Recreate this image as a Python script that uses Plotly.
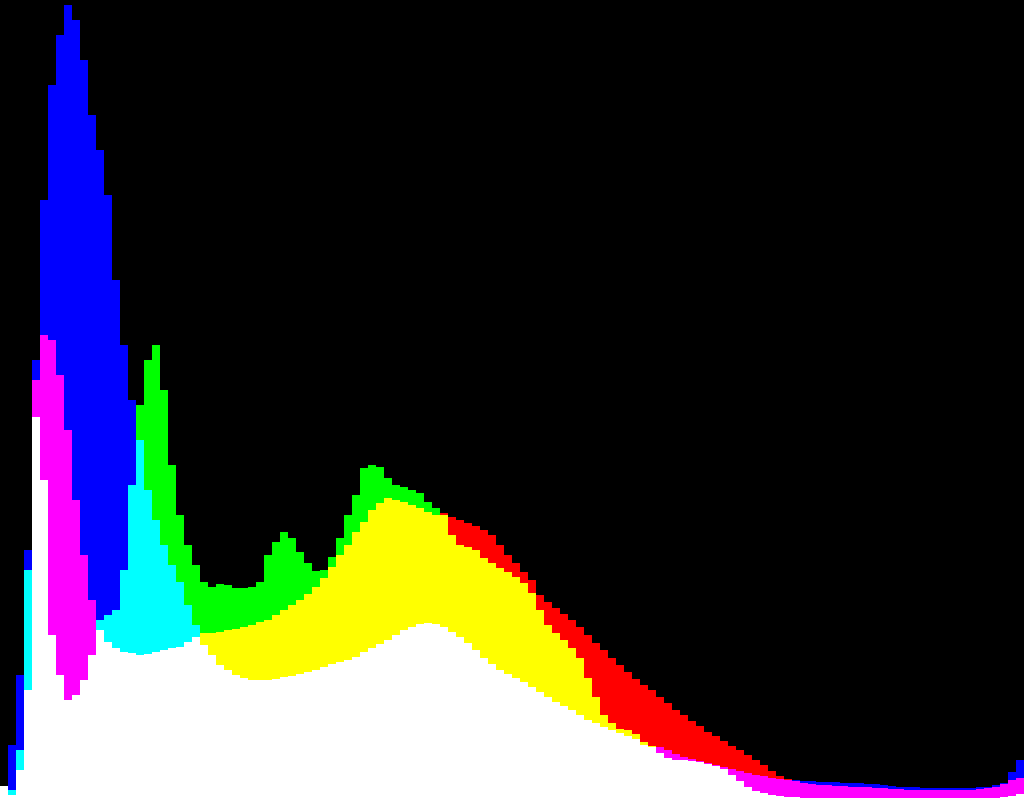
import plotly.graph_objects as go

# Histogram counts per channel (height in plot units, 128 bins of 8 px)
R = [14, 5, 30, 110, 420, 465, 460, 425, 370, 300,
     245, 200, 170, 158, 152, 148, 147, 145, 146, 148,
     150, 152, 153, 158, 163, 167, 167, 168, 170, 171,
     173, 175, 178, 180, 185, 190, 195, 200, 206, 213,
     222, 233, 245, 255, 268, 278, 290, 297, 302, 300,
     298, 295, 292, 288, 285, 287, 283, 280, 277, 274,
     270, 265, 255, 245, 237, 228, 220, 205, 198, 192,
     186, 180, 173, 165, 157, 150, 142, 135, 128, 121,
     115, 110, 103, 97, 90, 85, 79, 74, 68, 64,
     59, 54, 50, 45, 40, 35, 29, 24, 21, 19,
     17, 16, 15, 15, 14, 14, 13, 13, 13, 12,
     12, 11, 11, 10, 10, 10, 10, 10, 10, 10,
     10, 10, 11, 12, 13, 16, 20, 22]

G = [14, 10, 50, 230, 383, 320, 165, 125, 100, 105,
     120, 145, 180, 185, 190, 230, 315, 395, 440, 455,
     410, 335, 285, 255, 235, 218, 213, 216, 215, 212,
     212, 213, 218, 245, 258, 268, 262, 248, 237, 229,
     230, 243, 262, 285, 305, 332, 335, 333, 322, 315,
     313, 310, 307, 298, 292, 285, 265, 255, 253, 250,
     242, 237, 232, 228, 223, 217, 207, 190, 175, 167,
     160, 152, 142, 122, 103, 85, 77, 71, 70, 66,
     58, 54, 47, 42, 40, 40, 39, 38, 36, 34,
     31, 25, 19, 13, 9, 7, 5, 4, 3, 3,
     2, 2, 2, 2, 2, 2, 2, 2, 2, 2,
     2, 2, 2, 2, 2, 2, 2, 2, 2, 2,
     2, 2, 2, 2, 2, 3, 4, 6]

B = [14, 55, 125, 250, 440, 600, 715, 765, 795, 780,
     740, 685, 650, 605, 520, 455, 400, 360, 310, 280,
     255, 235, 218, 195, 175, 155, 145, 135, 130, 125,
     122, 120, 120, 120, 121, 123, 124, 126, 128, 130,
     133, 136, 138, 140, 143, 148, 152, 156, 160, 165,
     170, 173, 176, 177, 176, 173, 168, 163, 157, 150,
     142, 136, 130, 126, 122, 118, 113, 108, 103, 98,
     94, 90, 85, 80, 77, 73, 70, 67, 64, 61,
     55, 53, 53, 50, 46, 43, 41, 39, 37, 35,
     33, 31, 29, 27, 25, 24, 22, 21, 20, 20,
     19, 19, 18, 18, 18, 17, 17, 17, 16, 16,
     15, 14, 13, 13, 13, 12, 12, 12, 12, 12,
     12, 12, 13, 13, 15, 17, 28, 40]

n = len(R)
xs = list(range(n))

single = {"R": "#ff0000", "G": "#00ff00", "B": "#0000ff"}
pair = {frozenset("RG"): "#ffff00", frozenset("GB"): "#00ffff", frozenset("RB"): "#ff00ff"}

base_h, mid_h, top_h, mid_c, top_c = [], [], [], [], []
for r, g, b in zip(R, G, B):
    v = {"R": r, "G": g, "B": b}
    lo, mi, hi = sorted(v, key=lambda k: v[k])
    base_h.append(v[lo])
    mid_h.append(v[mi] - v[lo])
    top_h.append(v[hi] - v[mi])
    mid_c.append(pair[frozenset(mi + hi)])
    top_c.append(single[hi])

fig = go.Figure()
fig.add_trace(go.Bar(x=xs, y=base_h, width=1, marker=dict(color="#ffffff", line=dict(width=0)), hoverinfo="skip"))
fig.add_trace(go.Bar(x=xs, y=mid_h, width=1, marker=dict(color=mid_c, line=dict(width=0)), hoverinfo="skip"))
fig.add_trace(go.Bar(x=xs, y=top_h, width=1, marker=dict(color=top_c, line=dict(width=0)), hoverinfo="skip"))

fig.update_layout(
    width=1024, height=800,
    margin=dict(l=0, r=0, t=0, b=0, pad=0),
    paper_bgcolor="#000000", plot_bgcolor="#000000",
    barmode="stack", bargap=0, showlegend=False,
    xaxis=dict(visible=False, range=[-0.5, n - 0.5], fixedrange=True),
    yaxis=dict(visible=False, range=[0, 800], fixedrange=True),
)

fig.write_html(
    "out.html",
    config={"displayModeBar": False, "staticPlot": True},
    post_script="document.body.style.margin='0';document.body.style.background='#000';document.body.style.overflow='hidden';",
)
